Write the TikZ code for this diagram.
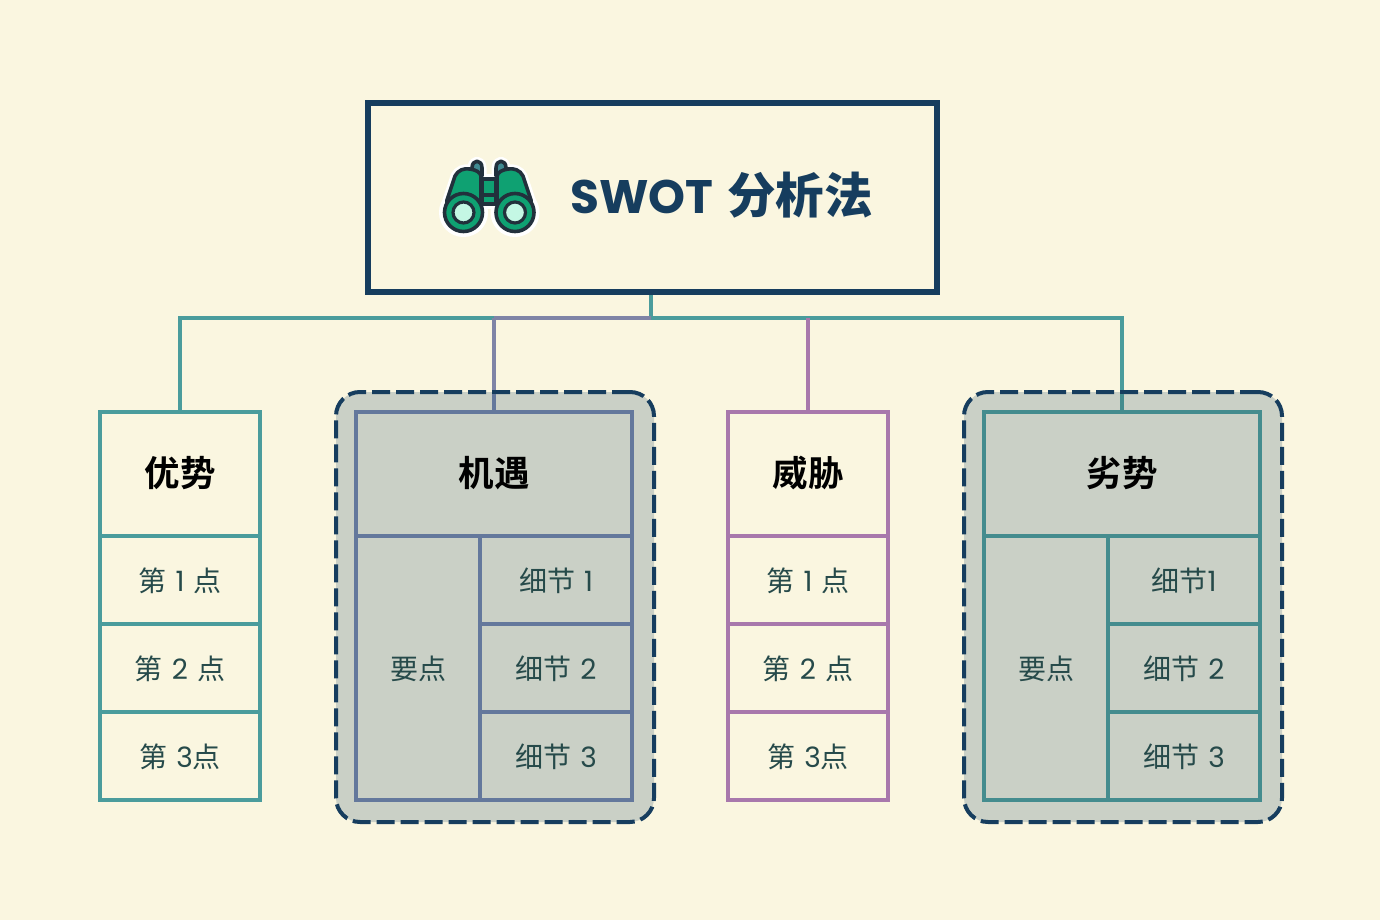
\documentclass[tikz,border=0pt]{standalone}
\usepackage{fontspec}
\setmainfont{Poppins}
\newfontfamily\cjk{Noto Sans CJK SC}
\newfontfamily\cjkb{Noto Sans CJK SC Bold}
\definecolor{bg}{HTML}{FAF6E0}
\definecolor{navy}{HTML}{163D5E}
\definecolor{teal}{HTML}{4A9C9C}
\definecolor{teald}{HTML}{448C8E}
\definecolor{slate}{HTML}{64789C}
\definecolor{slatel}{HTML}{7F84A6}
\definecolor{plum}{HTML}{A878AC}
\definecolor{sage}{HTML}{CAD0C6}
\definecolor{ink}{HTML}{264A4A}
\definecolor{gdark}{HTML}{22303C}
\definecolor{ggreen}{HTML}{0FA172}
\definecolor{gtop}{HTML}{3F8A92}
\definecolor{glens}{HTML}{C4F7E4}
\tikzset{
  x=1pt,y=-1pt,
  cellbox/.style={draw=#1,line width=4pt,inner sep=0pt},
  panel/.style={draw=navy,fill=sage,line width=4pt,dash pattern=on 18pt off 6pt,rounded corners=24pt,minimum width=318pt,minimum height=430pt,inner sep=0pt},
  conn/.style={draw=#1,line width=4pt},
  small/.style={text=ink,font=\fontsize{28}{30}\selectfont,yshift=-0.4pt},
  head/.style={text=black,font=\fontsize{35.5}{38}\selectfont\cjkb,yshift=0.8pt},
  halo/.style={line width=9pt,white,line join=round},
  gline/.style={draw=gdark,line width=3.6pt,line join=round},
}
\newcommand{\cj}[1]{{\cjk #1}}
\newcommand{\gp}{\hspace{9pt}}
\begin{document}
\begin{tikzpicture}
\useasboundingbox (0,0) rectangle (1380,920);
\fill[bg] (0,0) rectangle (1380,920);
% title
\node[draw=navy,line width=6pt,minimum width=569pt,minimum height=189pt,inner sep=0pt] (title) at (652.5,197.5) {};
\node[anchor=west,text=navy,inner sep=0pt] (tt) at (570,195) {\fontsize{47}{50}\selectfont\bfseries SWOT\hspace{14pt}{\fontsize{48.5}{50}\selectfont\cjkb 分析法}};
% junctions
\coordinate (hub) at (651,318);
\coordinate (ja) at (180,318);
\coordinate (jb) at (494,318);
\coordinate (jc) at (808,318);
\coordinate (jd) at (1122,318);
% connectors running under the dashed panels
\coordinate (bin) at (494,394);
\coordinate (din) at (1122,394);
\draw[conn=teal] (title.south -| hub) -- (hub);
\draw[conn=teal,line cap=rect] (ja) -- (jb);
\draw[conn=teal,line cap=rect] (hub) -- (jd);
\draw[conn=slatel] (jb) -- (hub);
\draw[conn=slatel] (jb) -- (bin);
\draw[conn=teal] (jd) -- (din);
% dashed panels
\node[panel] (panelb) at (495,607) {};
\node[panel] (paneld) at (1123,607) {};
% head boxes
\node[cellbox=teal,minimum width=160pt,minimum height=124pt] (a0) at (180,474) {};
\node[cellbox=slate,minimum width=276pt,minimum height=124pt] (b0) at (494,474) {};
\node[cellbox=plum,minimum width=160pt,minimum height=124pt] (c0) at (808,474) {};
\node[cellbox=teald,minimum width=276pt,minimum height=124pt] (d0) at (1122,474) {};
\draw[conn=teal] (ja) -- (a0.north);
\draw[conn=plum] (jc) -- (c0.north);
\draw[conn=slate] (bin) -- (b0.north);
\draw[conn=teald] (din) -- (d0.north);
% column A
\node[cellbox=teal,minimum width=160pt,minimum height=88pt] (a1) at (180,580) {};
\node[cellbox=teal,minimum width=160pt,minimum height=88pt] (a2) at (180,668) {};
\node[cellbox=teal,minimum width=160pt,minimum height=88pt] (a3) at (180,756) {};
% column C
\node[cellbox=plum,minimum width=160pt,minimum height=88pt] (c1) at (808,580) {};
\node[cellbox=plum,minimum width=160pt,minimum height=88pt] (c2) at (808,668) {};
\node[cellbox=plum,minimum width=160pt,minimum height=88pt] (c3) at (808,756) {};
% column B
\node[cellbox=slate,minimum width=124pt,minimum height=264pt] (bk) at (418,668) {};
\node[cellbox=slate,minimum width=152pt,minimum height=88pt] (b1) at (556,580) {};
\node[cellbox=slate,minimum width=152pt,minimum height=88pt] (b2) at (556,668) {};
\node[cellbox=slate,minimum width=152pt,minimum height=88pt] (b3) at (556,756) {};
% column D
\node[cellbox=teald,minimum width=124pt,minimum height=264pt] (dk) at (1046,668) {};
\node[cellbox=teald,minimum width=152pt,minimum height=88pt] (d1) at (1184,580) {};
\node[cellbox=teald,minimum width=152pt,minimum height=88pt] (d2) at (1184,668) {};
\node[cellbox=teald,minimum width=152pt,minimum height=88pt] (d3) at (1184,756) {};
% labels
\node[head] at (a0) {优势};
\node[head] at (b0) {机遇};
\node[head] at (c0) {威胁};
\node[head] at (d0) {劣势};
\foreach \p in {a,c}{
  \node[small] at (\p1) {\cj{第}\gp 1\gp\cj{点}};
  \node[small] at (\p2) {\cj{第}\gp 2\gp\cj{点}};
  \node[small] at (\p3) {\cj{第}\gp 3\cj{点}};
}
\node[small] at (bk) {\cj{要点}};
\node[small] at (dk) {\cj{要点}};
\node[small] at (b1) {\cj{细节}\gp 1};
\node[small] at (b2) {\cj{细节}\gp 2};
\node[small] at (b3) {\cj{细节}\gp 3};
\node[small] at (d1) {\cj{细节}1};
\node[small] at (d2) {\cj{细节}\gp 2};
\node[small] at (d3) {\cj{细节}\gp 3};
% binoculars icon
\def\lbody{(447,200) -- (455,176) .. controls (458,170) and (464,168) .. (470,169) .. controls (476,170) and (480,172) .. (481,176) -- (481,203) -- (447,203) -- cycle}
\def\rbody{(531,200) -- (523,176) .. controls (520,170) and (514,168) .. (508,169) .. controls (502,170) and (498,172) .. (497,176) -- (497,203) -- (531,203) -- cycle}
\def\ltop{(472,176) -- (472,168) .. controls (472,159) and (482,159) .. (482,168) -- (482,176) -- cycle}
\def\rtop{(496,176) -- (496,168) .. controls (496,159) and (506,159) .. (506,168) -- (506,176) -- cycle}
\def\midb{(482,179) rectangle (496,204)}
\foreach \s in {\lbody,\rbody,\ltop,\rtop,\midb}{\draw[halo] \s;}
\draw[halo] (463.5,212.5) circle (20); \draw[halo] (515,212.5) circle (20);
\filldraw[fill=gtop,gline] \ltop;
\filldraw[fill=gtop,gline] \rtop;
\filldraw[fill=ggreen,gline] \midb;
\draw[gline] (482,195) -- (496,195);
\filldraw[fill=ggreen,gline] \lbody;
\filldraw[fill=ggreen,gline] \rbody;
\filldraw[fill=ggreen,gline] (463.5,212.5) circle (19);
\filldraw[fill=ggreen,gline] (515,212.5) circle (19);
\filldraw[fill=glens,draw=gdark,line width=3.2pt] (463.5,212.5) circle (10.5);
\filldraw[fill=glens,draw=gdark,line width=3.2pt] (515,212.5) circle (10.5);
\end{tikzpicture}
\end{document}
